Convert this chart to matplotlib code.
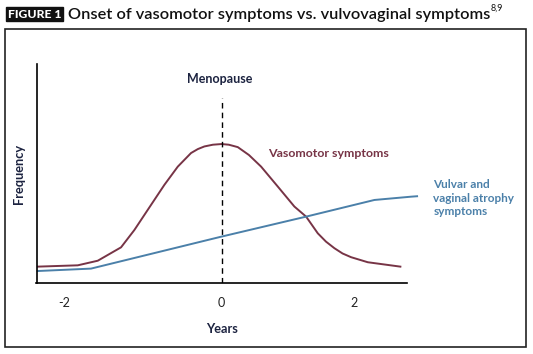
import matplotlib
matplotlib.use('Agg')
import matplotlib.pyplot as plt
from matplotlib.patches import Rectangle

# values (years from menopause, relative frequency)
vaso_years = [-2.553, -1.997, -1.719, -1.396, -1.211, -1.025, -0.794, -0.608,
              -0.424, -0.33, -0.239, -0.12, 0.0, 0.1, 0.225, 0.38, 0.549,
              0.781, 1.011, 1.174, 1.336, 1.45, 1.567, 1.68, 1.799, 2.031, 2.483]
vaso_freq = [0.076, 0.082, 0.103, 0.164, 0.243, 0.335, 0.449, 0.532,
             0.594, 0.612, 0.624, 0.632, 0.635, 0.632, 0.621, 0.585, 0.532,
             0.441, 0.35, 0.304, 0.228, 0.19, 0.16, 0.136, 0.119, 0.096, 0.076]
vva_years = [-2.553, -1.813, 0.0, 1.174, 2.122, 2.632, 2.715]
vva_freq = [0.056, 0.067, 0.213, 0.304, 0.38, 0.395, 0.397]
tick_pos = [-2.18, 0, 1.84]
tick_labels = ['-2', '0', '2']

maroon = '#773446'
blue = '#4b80a9'
navy = '#1c2340'
font = 'Lato'

W, H = 533, 354
fig = plt.figure(figsize=(W / 100, H / 100), dpi=100)

# outer frame
fig.patches.append(Rectangle((4.7 / W, 1 - 346.7 / H), 521.3 / W, 317.4 / H,
                             transform=fig.transFigure, fill=False,
                             edgecolor='#222222', linewidth=1.2))

ax = fig.add_axes([36.5 / W, 1 - 283.3 / H, 370.5 / W, 219.3 / H])
ax.plot(vaso_years, vaso_freq, color=maroon, linewidth=1.4)
ax.plot(vva_years, vva_freq, color=blue, linewidth=1.4, clip_on=False)
ax.plot([0, 0], [0, 0.844], color='black', linestyle=(0, (4, 3)), linewidth=1)

ax.set_xlim(-2.57, 2.575)
ax.set_ylim(0, 1)
ax.set_xticks(tick_pos)
ax.set_xticklabels(tick_labels, fontfamily=font, fontsize=9, color='#222222')
ax.tick_params(axis='x', length=0, pad=10)
ax.set_yticks([])
for s in ['top', 'right']:
    ax.spines[s].set_visible(False)
for s in ['left', 'bottom']:
    ax.spines[s].set_linewidth(1.2)

ax.set_xlabel('Years', fontfamily=font, fontweight='bold', fontsize=9.2,
              color=navy, labelpad=10)
ax.set_ylabel('Frequency', fontfamily=font, fontweight='bold', fontsize=9.2,
              color=navy, labelpad=8)

ax.text(-0.03, 0.93, 'Menopause', ha='center', va='center', fontfamily=font,
        fontweight='bold', fontsize=9, color=navy)
ax.text(0.64, 0.59, 'Vasomotor symptoms', ha='left', va='center',
        fontfamily=font, fontweight='bold', fontsize=8.9, color=maroon)
ax.text(2.94, 0.388, 'Vulvar and\nvaginal atrophy\nsymptoms', ha='left',
        va='center', fontfamily=font, fontweight='bold', fontsize=8.5,
        color=blue, linespacing=1.25)

# title
fig.patches.append(Rectangle((6 / W, 1 - 21 / H), 57 / W, 14 / H,
                             transform=fig.transFigure, color='#111111'))
fig.text(34.5 / W, 1 - 14 / H, 'FIGURE 1', ha='center', va='center',
         fontfamily=font, fontweight='black', fontsize=8.8, color='white')
t = fig.text(67.7 / W, 1 - 14.5 / H,
             'Onset of vasomotor symptoms vs. vulvovaginal symptoms',
             ha='left', va='center', fontfamily=font, fontweight='semibold',
             fontsize=13, color='#111111')
fig.canvas.draw()
bb = t.get_window_extent()
t.set_fontsize(13 * 418 / bb.width)
fig.canvas.draw()
bb = t.get_window_extent()
fig.text((bb.x1 + 1) / W, 1 - 8.5 / H, '8,9', ha='left', va='center',
         fontfamily=font, fontsize=6.5, color='#111111')

fig.savefig('out.png', dpi=100)
